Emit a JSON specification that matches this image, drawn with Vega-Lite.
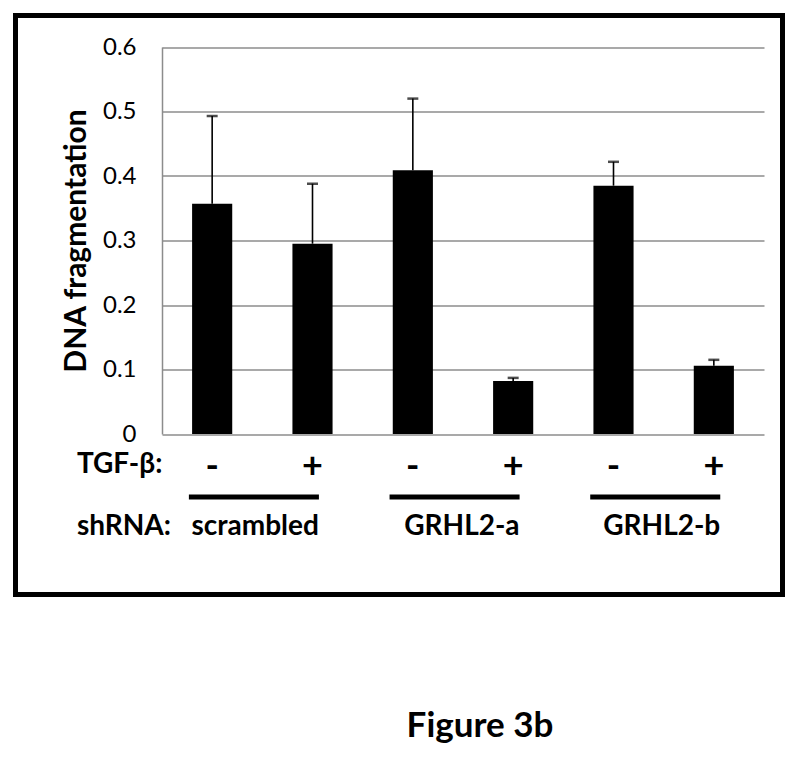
{
  "$schema": "https://vega.github.io/schema/vega-lite/v6.json",
  "width": 767,
  "height": 579,
  "autosize": "none",
  "padding": {"left": 15.5, "top": 15.5, "right": 17.5, "bottom": 165.5},
  "background": "white",
  "config": {
    "font": "Lato",
    "view": {"stroke": "black", "strokeWidth": 5}
  },
  "title": {
    "text": "Figure 3b",
    "orient": "bottom",
    "anchor": "middle",
    "baseline": "alphabetic",
    "offset": 142,
    "dx": 81,
    "fontSize": 35,
    "fontWeight": "bold",
    "font": "Lato",
    "color": "black"
  },
  "datasets": {
    "bars": [
      {"shRNA": "scrambled", "TGF": "-", "cond": "scrambled -", "value": 0.357, "upper": 0.493},
      {"shRNA": "scrambled", "TGF": "+", "cond": "scrambled +", "value": 0.295, "upper": 0.388},
      {"shRNA": "GRHL2-a", "TGF": "-", "cond": "GRHL2-a -", "value": 0.409, "upper": 0.520},
      {"shRNA": "GRHL2-a", "TGF": "+", "cond": "GRHL2-a +", "value": 0.082, "upper": 0.087},
      {"shRNA": "GRHL2-b", "TGF": "-", "cond": "GRHL2-b -", "value": 0.385, "upper": 0.422},
      {"shRNA": "GRHL2-b", "TGF": "+", "cond": "GRHL2-b +", "value": 0.106, "upper": 0.115}
    ],
    "groups": [
      {"shRNA": "scrambled", "neg": "scrambled -", "pos": "scrambled +"},
      {"shRNA": "GRHL2-a", "neg": "GRHL2-a -", "pos": "GRHL2-a +"},
      {"shRNA": "GRHL2-b", "neg": "GRHL2-b -", "pos": "GRHL2-b +"}
    ]
  },
  "encoding": {
    "x": {
      "field": "cond",
      "type": "nominal",
      "scale": {
        "domain": ["scrambled -", "scrambled +", "GRHL2-a -", "GRHL2-a +", "GRHL2-b -", "GRHL2-b +"],
        "range": [146.5, 748.5],
        "paddingInner": 0.6,
        "paddingOuter": 0.3
      },
      "axis": null
    }
  },
  "layer": [
    {
      "data": {"name": "bars"},
      "mark": {"type": "bar", "color": "black"},
      "encoding": {
        "y": {
          "field": "value",
          "type": "quantitative",
          "scale": {"domain": [0, 0.6], "range": [418.5, 31.5], "nice": false},
          "axis": {
            "title": "DNA fragmentation",
            "values": [0, 0.1, 0.2, 0.3, 0.4, 0.5, 0.6],
            "format": "~g",
            "offset": -146.5,
            "grid": true,
            "gridColor": "#8c8c8c",
            "gridWidth": 1.5,
            "domainColor": "#8c8c8c",
            "domainWidth": 1.5,
            "ticks": false,
            "tickSize": 0,
            "labelPadding": 26,
            "labelFontSize": 24,
            "labelColor": "black",
            "labelFont": "Lato",
            "titleFont": "Lato",
            "titleFontSize": 30,
            "titleFontWeight": "bold",
            "titleColor": "black",
            "titlePadding": 11
          }
        }
      }
    },
    {
      "data": {"name": "bars"},
      "mark": {"type": "rule", "color": "black", "strokeWidth": 1.6},
      "encoding": {
        "y": {"field": "value", "type": "quantitative"},
        "y2": {"field": "upper"}
      }
    },
    {
      "data": {"name": "bars"},
      "mark": {"type": "tick", "color": "black", "size": 11, "thickness": 2.5, "orient": "horizontal"},
      "encoding": {
        "y": {"field": "upper", "type": "quantitative"}
      }
    },
    {
      "data": {"name": "bars"},
      "mark": {"type": "text", "fontSize": 36, "fontWeight": "bold", "baseline": "middle", "color": "black"},
      "encoding": {
        "y": {"datum": -0.051, "type": "quantitative"},
        "text": {"field": "TGF"}
      }
    },
    {
      "data": {"name": "groups"},
      "mark": {"type": "rule", "color": "black", "strokeWidth": 5},
      "encoding": {
        "x": {"field": "neg", "type": "nominal", "bandPosition": -0.08},
        "x2": {"field": "pos", "bandPosition": 0.66},
        "y": {"datum": -0.0977, "type": "quantitative"}
      }
    },
    {
      "data": {"name": "groups"},
      "mark": {"type": "text", "fontSize": 28, "fontWeight": "bold", "align": "right", "baseline": "alphabetic", "color": "black"},
      "encoding": {
        "x": {"field": "pos", "type": "nominal", "bandPosition": 0.66},
        "y": {"datum": -0.1566, "type": "quantitative"},
        "text": {"field": "shRNA"}
      }
    },
    {
      "data": {"values": [{"label": "TGF-β:"}]},
      "mark": {"type": "text", "fontSize": 28, "fontWeight": "bold", "align": "left", "baseline": "alphabetic", "color": "black"},
      "encoding": {
        "x": {"datum": "scrambled -", "type": "nominal", "bandPosition": -2.87},
        "y": {"datum": -0.0605, "type": "quantitative"},
        "text": {"field": "label"}
      }
    },
    {
      "data": {"values": [{"label": "shRNA:"}]},
      "mark": {"type": "text", "fontSize": 28, "fontWeight": "bold", "align": "left", "baseline": "alphabetic", "color": "black"},
      "encoding": {
        "x": {"datum": "scrambled -", "type": "nominal", "bandPosition": -2.87},
        "y": {"datum": -0.1566, "type": "quantitative"},
        "text": {"field": "label"}
      }
    }
  ]
}
